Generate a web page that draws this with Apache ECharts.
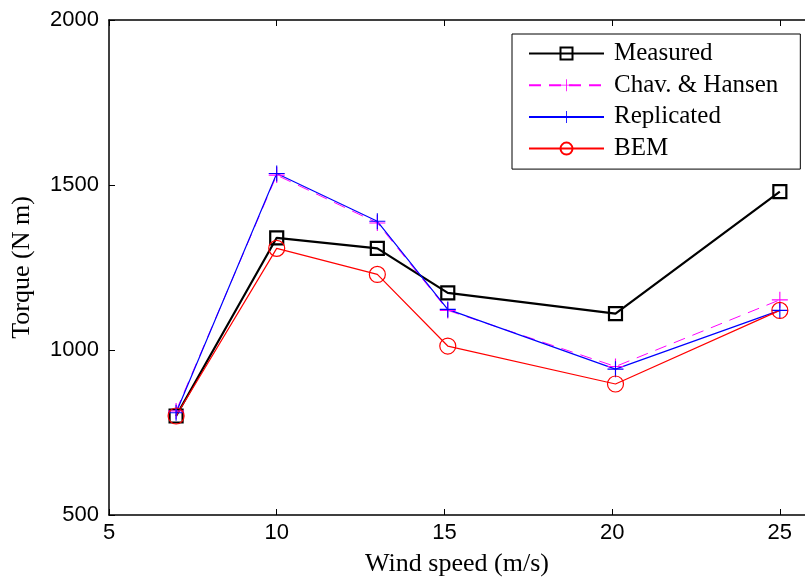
<!DOCTYPE html>
<html>
<head>
<meta charset="utf-8">
<script src="https://cdn.jsdelivr.net/npm/echarts@6/dist/echarts.min.js"></script>
<style>
  html, body { margin: 0; padding: 0; background: #fff; }
  #main { width: 805px; height: 584px; }
</style>
</head>
<body>
<div id="main"></div>
<script>
// wind speed (m/s) of each test point
var windSpeed = [7, 10, 13, 15.1, 20.1, 25]
// torque (N m)
var measured = [800, 1340, 1308, 1173, 1110, 1480]
var chavHansen = [815, 1530, 1385, 1120, 950, 1152]
var replicated = [810, 1535, 1390, 1123, 942, 1120]
var bem = [800, 1308, 1229, 1012, 897, 1120]

var seriesNames = ['Measured', 'Chav. & Hansen', 'Replicated', 'BEM']
var yTicks = [500, 1000, 1500, 2000]

// plus marker (filled thin cross)
var plus = 'path://M-0.07,-1 L0.07,-1 L0.07,-0.07 L1,-0.07 L1,0.07 L0.07,0.07 L0.07,1 L-0.07,1 L-0.07,0.07 L-1,0.07 L-1,-0.07 L-0.07,-0.07 Z'

function pairs(ys) {
    return windSpeed.map(function (x, i) { return [x, ys[i]] })
}

var myChart = echarts.init(document.getElementById('main'))

var axisFont = { fontFamily: 'Liberation Sans', fontSize: 22, color: '#000' }
var titleFont = { fontFamily: 'Liberation Serif', fontSize: 26, color: '#000' }
var plain = function (v) { return String(v) }

myChart.setOption({
    animation: false,
    grid: { left: 109, top: 20, bottom: 69, right: 0 },
    legend: {
        orient: 'vertical',
        left: 512,
        top: 34,
        data: seriesNames,
        itemWidth: 75,
        itemHeight: 15,
        itemGap: 6.7,
        padding: [7, 22, 8, 16],
        borderColor: '#000',
        borderWidth: 1,
        backgroundColor: '#fff',
        textStyle: {
            fontFamily: 'Liberation Serif',
            fontSize: 25,
            color: '#000',
            padding: [0, 0, 0, 5]
        }
    },
    xAxis: [{
        type: 'value',
        min: 5,
        max: 25.75,
        interval: 5,
        name: 'Wind speed (m/s)',
        nameLocation: 'middle',
        nameGap: 36,
        nameTextStyle: titleFont,
        axisLine: { onZero: false, lineStyle: { color: '#000', width: 1.5 } },
        axisTick: { inside: true, length: 6, lineStyle: { color: '#000' } },
        axisLabel: Object.assign({ margin: 7, showMaxLabel: false, formatter: plain }, axisFont),
        splitLine: { show: false }
    }, {
        type: 'value',
        position: 'top',
        min: 5,
        max: 25.75,
        interval: 5,
        axisLine: { onZero: false, lineStyle: { color: '#000', width: 1.5 } },
        axisTick: { inside: true, length: 6, lineStyle: { color: '#000' } },
        axisLabel: { show: false },
        splitLine: { show: false }
    }],
    yAxis: {
        type: 'value',
        min: yTicks[0],
        max: yTicks[yTicks.length - 1],
        interval: 500,
        name: 'Torque (N m)',
        nameLocation: 'middle',
        nameGap: 74,
        nameTextStyle: titleFont,
        axisLine: { show: true, lineStyle: { color: '#000', width: 1.5 } },
        axisTick: { inside: true, length: 6, lineStyle: { color: '#000' } },
        axisLabel: Object.assign({ margin: 10, formatter: plain }, axisFont),
        splitLine: { show: false }
    },
    series: [
        {
            name: 'Measured',
            type: 'line',
            data: pairs(measured),
            symbol: 'rect',
            symbolSize: 13,
            showAllSymbol: true,
            lineStyle: { color: '#000', width: 2.2 },
            itemStyle: { color: 'rgba(0,0,0,0)', borderColor: '#000', borderWidth: 2.2 }
        },
        {
            name: 'Chav. & Hansen',
            type: 'line',
            data: pairs(chavHansen),
            symbol: plus,
            symbolSize: 16,
            lineStyle: { color: '#ff00ff', width: 1, type: [12, 8] },
            itemStyle: { color: '#ff00ff', borderWidth: 0 }
        },
        {
            name: 'Replicated',
            type: 'line',
            data: pairs(replicated),
            symbol: plus,
            symbolSize: 16,
            lineStyle: { color: '#0000ff', width: 1.2 },
            itemStyle: { color: '#0000ff', borderWidth: 0 }
        },
        {
            name: 'BEM',
            type: 'line',
            data: pairs(bem),
            symbol: 'circle',
            symbolSize: 16,
            lineStyle: { color: '#ff0000', width: 1.2 },
            itemStyle: { color: 'rgba(0,0,0,0)', borderColor: '#ff0000', borderWidth: 1.2 }
        }
    ]
})
</script>
</body>
</html>
